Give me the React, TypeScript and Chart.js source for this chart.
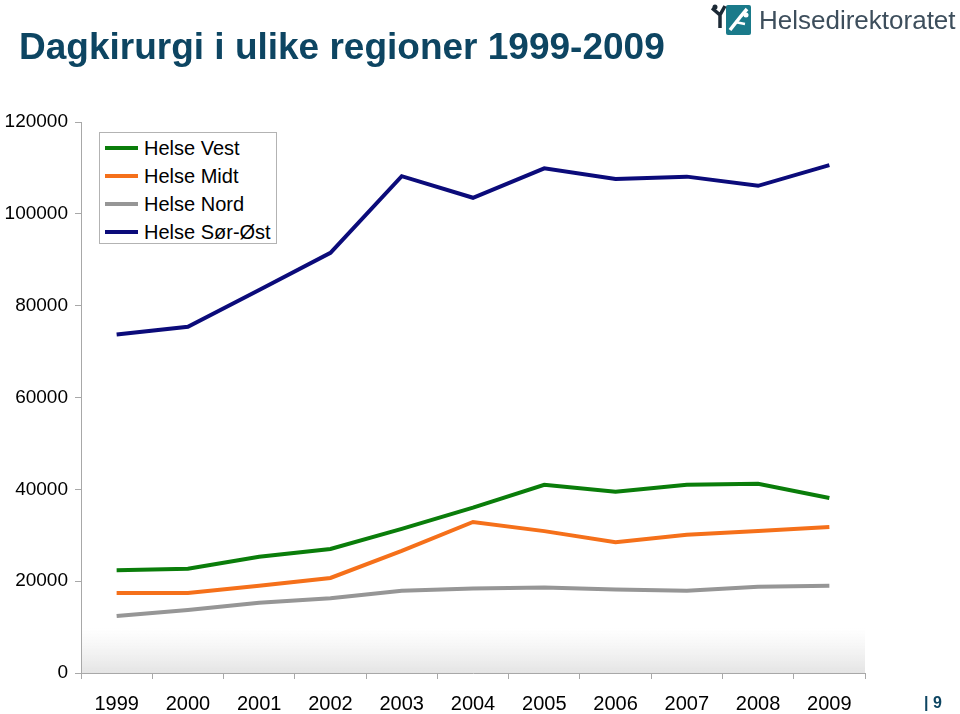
import React, { useEffect, useRef } from "react";
import { Chart, registerables } from "chart.js";

Chart.register(...registerables);

const categories = ["1999", "2000", "2001", "2002", "2003", "2004", "2005", "2006", "2007", "2008", "2009"];
const helseVest = [22400, 22700, 25300, 27000, 31400, 36000, 41000, 39500, 41000, 41200, 38100];
const helseMidt = [17400, 17400, 19000, 20700, 26600, 32900, 30900, 28500, 30100, 30900, 31800];
const helseNord = [12400, 13700, 15300, 16300, 17900, 18400, 18600, 18200, 17900, 18800, 19000];
const helseSorOst = [73700, 75400, 83400, 91500, 108200, 103500, 109900, 107600, 108100, 106100, 110600];
const seriesNames = ["Helse Vest", "Helse Midt", "Helse Nord", "Helse Sør-Øst"];
const seriesColors = ["#0a7d0a", "#f5701a", "#969696", "#0b0b7a"];
const yTicks = { min: 0, max: 120000, step: 20000 };

const FONT = "'Liberation Sans', Arial, sans-serif";

const bottomShade = {
  id: "bottomShade",
  beforeDraw(chart: any) {
    const { ctx, chartArea } = chart;
    if (!chartArea) return;
    const top = chartArea.bottom - 45;
    const g = ctx.createLinearGradient(0, top, 0, chartArea.bottom);
    g.addColorStop(0, "rgba(236,236,236,0)");
    g.addColorStop(1, "rgba(228,228,228,1)");
    ctx.save();
    ctx.fillStyle = g;
    ctx.fillRect(chartArea.left, top, chartArea.right - chartArea.left, chartArea.bottom - top);
    ctx.restore();
  },
};

export default function App() {
  const ref = useRef<HTMLCanvasElement>(null);

  useEffect(() => {
    if (!ref.current) return;
    const data = [helseVest, helseMidt, helseNord, helseSorOst];
    const chart = new Chart(ref.current, {
      type: "line",
      data: {
        labels: categories,
        datasets: data.map((d, i) => ({
          label: seriesNames[i],
          data: d,
          borderColor: seriesColors[i],
          backgroundColor: seriesColors[i],
          borderWidth: 4,
          pointRadius: 0,
          tension: 0,
          fill: false,
        })),
      },
      options: {
        animation: false,
        responsive: false,
        maintainAspectRatio: false,
        layout: { padding: { left: 0, top: 122, right: 95, bottom: 0 } },
        plugins: { legend: { display: false }, tooltip: { enabled: false }, title: { display: false } },
        scales: {
          x: {
            offset: true,
            grid: { offset: true, drawOnChartArea: false, drawTicks: true, tickLength: 6, color: "#a8a8a8" },
            border: { display: true, color: "#a8a8a8", width: 1 },
            ticks: { color: "#000", font: { family: FONT, size: 20 }, padding: 13, maxRotation: 0, autoSkip: false },
            afterFit: (s: any) => { s.height = 41; },
          },
          y: {
            min: yTicks.min,
            max: yTicks.max,
            grid: { drawOnChartArea: false, drawTicks: true, tickLength: 6, color: "#a8a8a8" },
            border: { display: true, color: "#a8a8a8", width: 1 },
            ticks: {
              stepSize: yTicks.step,
              color: "#000",
              font: { family: FONT, size: 19 },
              padding: 7,
              callback: (v: any) => String(v),
            },
            afterFit: (s: any) => { s.width = 81; },
          },
        },
      },
      plugins: [bottomShade],
    });
    return () => chart.destroy();
  }, []);

  return (
    <div style={{ position: "absolute", left: 0, top: 0, width: 960, height: 714, background: "#fff", fontFamily: FONT, overflow: "hidden" }}>
      <canvas ref={ref} width={960} height={714} style={{ position: "absolute", left: 0, top: 0, width: 960, height: 714 }} />
      <div style={{ position: "absolute", left: 19, top: 25, fontSize: 37, fontWeight: "bold", color: "#0d4562", whiteSpace: "nowrap", lineHeight: "44px" }}>
        Dagkirurgi i ulike regioner 1999-2009
      </div>
      <svg width={42} height={34} style={{ position: "absolute", left: 711, top: 2 }} viewBox="0 0 42 34">
        <rect x={15} y={3} width={25} height={30} rx={2} fill="#1a7a8a" />
        <path d="M19 28 L30 14 L36 7" stroke="#fff" strokeWidth={3.5} fill="none" />
        <path d="M24 20 L34 22" stroke="#fff" strokeWidth={2.5} />
        <circle cx={35} cy={13} r={2.5} fill="#fff" />
        <path d="M1 6 L9 13 M14 4 L9 13 L9 26" stroke="#1c2a36" strokeWidth={3.5} fill="none" />
        <circle cx={4} cy={5} r={2.5} fill="#1c2a36" />
      </svg>
      <div style={{ position: "absolute", left: 759, top: 4, fontSize: 26, color: "#3d4e5c", whiteSpace: "nowrap", lineHeight: "32px" }}>
        Helsedirektoratet
      </div>
      <div style={{ position: "absolute", left: 99, top: 132, width: 176, height: 110, border: "1px solid #b3b3b3", background: "#fff" }}>
        {seriesNames.map((n, i) => (
          <div key={n} style={{ position: "absolute", left: 0, top: 1 + i * 28, height: 28, width: 176 }}>
            <div style={{ position: "absolute", left: 5, top: 12, width: 33, height: 4, background: seriesColors[i] }} />
            <div style={{ position: "absolute", left: 44, top: 2, fontSize: 20, lineHeight: "24px", color: "#000", whiteSpace: "nowrap" }}>{n}</div>
          </div>
        ))}
      </div>
      <div style={{ position: "absolute", left: 924, top: 693, fontSize: 16, fontWeight: "bold", color: "#0d4562", lineHeight: "20px", whiteSpace: "nowrap" }}>
        | 9
      </div>
    </div>
  );
}
